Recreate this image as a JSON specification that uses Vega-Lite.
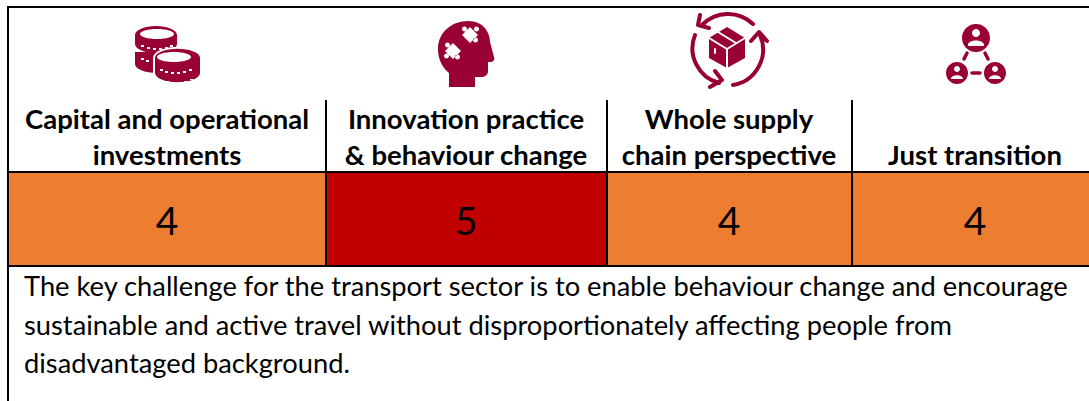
{
"$schema":"https://vega.github.io/schema/vega-lite/v6.json",
"width":1089,"height":401,"padding":0,"autosize":{"type":"none"},
"background":"white",
"config":{"view":{"stroke":null}},
"resolve":{"scale":{"shape":"independent","fill":"independent","color":"independent","stroke":"independent"}},
"datasets":{
"cells":[
{"col":"Capital and operational investments","x0":8,"x1":326,"y0":172,"y1":266,"score":"4","lx":167,"ly":235},
{"col":"Innovation practice & behaviour change","x0":326,"x1":607,"y0":172,"y1":266,"score":"5","lx":466,"ly":235},
{"col":"Whole supply chain perspective","x0":607,"x1":852,"y0":172,"y1":266,"score":"4","lx":729,"ly":235},
{"col":"Just transition","x0":852,"x1":1089,"y0":172,"y1":266,"score":"4","lx":975,"ly":235}],
"rules":[
{"x0":8,"x1":1089,"y0":7,"y1":7},{"x0":8,"x1":1089,"y0":172,"y1":172},{"x0":8,"x1":1089,"y0":266,"y1":266},
{"x0":8,"x1":8,"y0":6,"y1":401},{"x0":326,"x1":326,"y0":100,"y1":266},{"x0":607,"x1":607,"y0":100,"y1":266},{"x0":852,"x1":852,"y0":100,"y1":266}],
"heads":[
{"t":"Capital and operational","x":167,"y":129},{"t":"investments","x":167,"y":165},
{"t":"Innovation practice","x":466,"y":129},{"t":"& behaviour change","x":466,"y":165},
{"t":"Whole supply","x":729,"y":129},{"t":"chain perspective","x":729,"y":165},
{"t":"Just transition","x":975,"y":165}],
"body":[
{"t":"The key challenge for the transport sector is to enable behaviour change and encourage","x":24,"y":296},
{"t":"sustainable and active travel without disproportionately affecting people from","x":24,"y":335},
{"t":"disadvantaged background.","x":24,"y":373}],
"glyphs":[
{"g":"coinsBody","tone":"maroon","x":168,"y":53},
{"g":"coinsGap","tone":"white","x":168,"y":53},
{"g":"coinC","tone":"maroon","x":168,"y":53},
{"g":"coinsHoles","tone":"white","x":168,"y":53},
{"g":"head","tone":"maroon","x":466,"y":54},
{"g":"puzzle","tone":"white","x":466,"y":54},
{"g":"box","tone":"maroon","x":729,"y":50},
{"g":"people","tone":"maroon","x":976,"y":53},
{"g":"persons","tone":"white","x":976,"y":53}],
"lines":[
{"g":"arcs","tone":"maroon","w":4,"x":729,"y":50},
{"g":"boxLines","tone":"white","w":2,"x":729,"y":50},
{"g":"links","tone":"maroon","w":3.5,"x":976,"y":53}]
},
"layer":[
{"data":{"name":"cells"},"mark":{"type":"rect"},
"encoding":{"x":{"field":"x0","type":"quantitative","scale":{"domain":[0,1089],"nice":false,"zero":false},"axis":null},"x2":{"field":"x1"},
"y":{"field":"y0","type":"quantitative","scale":{"domain":[401,0],"nice":false,"zero":false},"axis":null},"y2":{"field":"y1"},
"fill":{"field":"score","type":"nominal","scale":{"domain":["4","5"],"range":["#ED7D31","#C00000"]},"legend":null}}},
{"data":{"name":"rules"},"mark":{"type":"rule","color":"#000000","strokeWidth":2},
"encoding":{"x":{"field":"x0","type":"quantitative"},"x2":{"field":"x1"},"y":{"field":"y0","type":"quantitative"},"y2":{"field":"y1"}}},
{"data":{"name":"cells"},"mark":{"type":"text","font":"Lato","fontSize":39,"align":"center","baseline":"alphabetic","color":"#000000"},
"encoding":{"x":{"field":"lx","type":"quantitative"},"y":{"field":"ly","type":"quantitative"},"text":{"field":"score"}}},
{"data":{"name":"heads"},"mark":{"type":"text","font":"Lato","fontWeight":"bold","fontSize":27.5,"align":"center","baseline":"alphabetic","color":"#000000"},
"encoding":{"x":{"field":"x","type":"quantitative"},"y":{"field":"y","type":"quantitative"},"text":{"field":"t"}}},
{"data":{"name":"body"},"mark":{"type":"text","font":"Lato","fontSize":27.3,"align":"left","baseline":"alphabetic","color":"#000000"},
"encoding":{"x":{"field":"x","type":"quantitative"},"y":{"field":"y","type":"quantitative"},"text":{"field":"t"}}},
{"data":{"name":"glyphs"},"mark":{"type":"point","filled":true,"size":4,"opacity":1,"strokeWidth":0},
"encoding":{"x":{"field":"x","type":"quantitative"},"y":{"field":"y","type":"quantitative"},
"color":{"field":"tone","type":"nominal","scale":{"domain":["maroon","white"],"range":["#990033","#FFFFFF"]},"legend":null},
"shape":{"field":"g","type":"nominal","legend":null,"scale":{"domain":["coinsBody","coinsGap","coinC","coinsHoles","head","puzzle","box","people","persons"],"range":[
"M-33,-18A21,9,0,0,1,9,-18L9,-9A21,9,0,0,1,-33,-9ZM-33,-1L11,-1L11,11A22,9,0,0,1,-33,11Z",
"M-15,5A24,11,0,0,1,33,5L33,20A24,11,0,0,1,-15,20Z",
"M-13,5A22,9,0,0,1,32,5L32,20A22,9,0,0,1,-13,20Z",
"M-28,-19A17,5,0,0,1,6,-19A17,5,0,0,1,-28,-19ZM-11,4A17,5,0,0,1,23,4A17,5,0,0,1,-11,4ZM-27,-8h3v2h-3zM-21,-6h3v2h-3zM-15,-5h3v2h-3zM-9,-5h3v2h-3zM-3,-6h3v2h-3zM2,-8h3v2h-3zM-27,5h3v2h-3zM-22,7h3v2h-3zM-8,16h3v2h-3zM-3,18h3v2h-3zM3,19h3v2h-3zM9,19h3v2h-3zM15,18h3v2h-3zM21,16h3v2h-3zM-8,27h3v1h-3zM-2,28h3v1h-3zM4,29h3v1h-3zM10,29h3v1h-3zM16,28h3v1h-3zM22,26h3v1h-3z",
"M-17,33L-17,19C-24,13,-28,5,-28,-5C-28,-22,-14,-33,2,-33C17,-33,24,-22,24,-12L28,3C29,6,27,8,24,8L22,8L22,17C22,21,19,23,15,23L9,23L9,33Z",
"M-13,-11L-5,-3L-13,5L-21,-3ZM4,-27L12,-19L4,-11L-4,-19ZM-21,-9a2.5,2.5,0,1,0,5,0a2.5,2.5,0,1,0,-5,0ZM-11,3a2.5,2.5,0,1,0,5,0a2.5,2.5,0,1,0,-5,0ZM-22,2a2.5,2.5,0,1,0,5,0a2.5,2.5,0,1,0,-5,0ZM8,-25a2.5,2.5,0,1,0,5,0a2.5,2.5,0,1,0,-5,0ZM7,-14a2.5,2.5,0,1,0,5,0a2.5,2.5,0,1,0,-5,0ZM-4,-25a2.5,2.5,0,1,0,5,0a2.5,2.5,0,1,0,-5,0Z",
"M-2,-23L16,-12L16,8L-2,18L-20,8L-20,-12Z",
"M-14,-15a14,14,0,1,0,28,0a14,14,0,1,0,-28,0ZM-30,20a11,11,0,1,0,22,0a11,11,0,1,0,-22,0ZM8,20a11,11,0,1,0,22,0a11,11,0,1,0,-22,0Z",
"M-4,-20a4,4,0,1,0,8,0a4,4,0,1,0,-8,0ZM-8,-8C-8,-14,8,-14,8,-8L8,-7L-8,-7ZM-22,16a3,3,0,1,0,6,0a3,3,0,1,0,-6,0ZM-25,26C-25,21,-13,21,-13,26ZM16,16a3,3,0,1,0,6,0a3,3,0,1,0,-6,0ZM13,26C13,21,25,21,25,26Z"
]}}}},
{"data":{"name":"lines"},"mark":{"type":"point","filled":false,"fill":"transparent","size":4,"opacity":1,"strokeCap":"round","strokeJoin":"round"},
"encoding":{"x":{"field":"x","type":"quantitative"},"y":{"field":"y","type":"quantitative"},
"stroke":{"field":"tone","type":"nominal","scale":{"domain":["maroon","white"],"range":["#990033","#FFFFFF"]},"legend":null},
"strokeWidth":{"field":"w","type":"quantitative","scale":null},
"shape":{"field":"g","type":"nominal","legend":null,"scale":{"domain":["arcs","boxLines","links"],"range":[
"M24,-26A36,36,0,0,0,-27,-25M-29,-35L-31,-25L-20,-22M4,35A36,36,0,0,0,31,-15M22,-9L30,-18L38,-9M-34,-15A36,36,0,0,0,-10,33M-14,21L-7,30L-19,37",
"M-20,-12L-2,-1L16,-12M-2,-1L-2,18M-11,-18L7,-7M-14,-1L-14,3",
"M-9,0L-12,6M9,0L12,6M-4,20L4,20"
]}}}}
]
}
